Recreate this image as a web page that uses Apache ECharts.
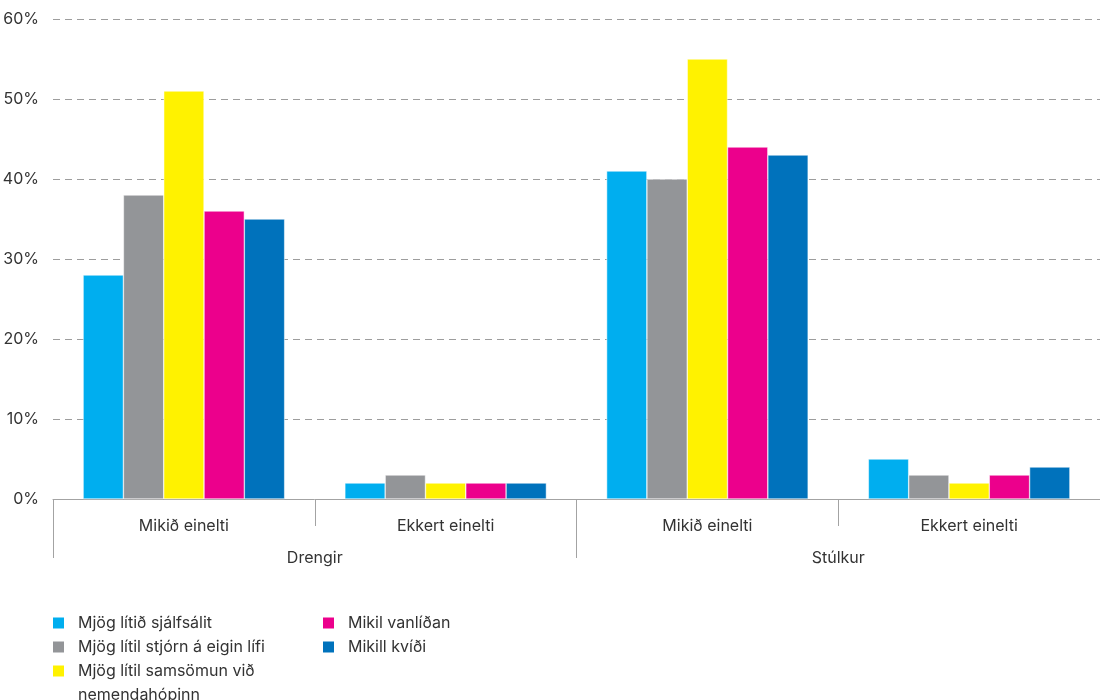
<!DOCTYPE html>
<html>
<head>
<meta charset="utf-8">
<script src="https://cdn.jsdelivr.net/npm/echarts@6/dist/echarts.min.js"></script>
<style>
  html, body { margin: 0; padding: 0; background: #fff; }
  #chart { width: 1100px; height: 700px; }
</style>
</head>
<body>
<div id="chart"></div>
<script>
const categories = ['Mikið einelti', 'Ekkert einelti', 'Mikið einelti', 'Ekkert einelti'];
const groups = ['Drengir', 'Stúlkur'];
const seriesNames = [
  'Mjög lítið sjálfsálit',
  'Mjög lítil stjórn á eigin lífi',
  'Mjög lítil samsömun við nemendahópinn',
  'Mikil vanlíðan',
  'Mikill kvíði'
];
const sjalfsalit = [28, 2, 41, 5];
const stjorn = [38, 3, 40, 3];
const samsomun = [51, 2, 55, 2];
const vanlidan = [36, 2, 44, 3];
const kvidi = [35, 2, 43, 4];
const colors = ['#00AEEF', '#939598', '#FFF200', '#EC008C', '#0072BC'];
const yTicks = [0, 10, 20, 30, 40, 50, 60];

const FONT = "Inter, 'Liberation Sans', Arial, sans-serif";
const TXT = '#333333';
const AX = '#a3a3a3';

const values = [sjalfsalit, stjorn, samsomun, vanlidan, kvidi];

const chart = echarts.init(document.getElementById('chart'), null, { renderer: 'canvas' });

const series = seriesNames.map((name, i) => ({
  name: name,
  type: 'bar',
  xAxisIndex: 0,
  yAxisIndex: 0,
  barGap: '0%',
  barCategoryGap: '23%',
  itemStyle: { color: colors[i], borderColor: '#ffffff', borderWidth: 0.5 },
  emphasis: { disabled: true },
  data: values[i]
}));

const legendText = { fontFamily: FONT, fontSize: 16, color: TXT, lineHeight: 24, padding: [0, 0, 0, 8] };
const legendBase = {
  orient: 'vertical', padding: 0, itemGap: 0,
  itemWidth: 13, itemHeight: 13, icon: 'rect',
  textStyle: legendText
};

chart.setOption({
  animation: false,
  color: colors,
  textStyle: { fontFamily: FONT },
  grid: { left: 53, right: 0, top: 19, bottom: 201, containLabel: false, outerBoundsMode: 'none' },
  legend: [
    Object.assign({}, legendBase, {
      left: 51, top: 611,
      data: [seriesNames[0], seriesNames[1]]
    }),
    Object.assign({}, legendBase, {
      left: 51, top: 635,
      data: [seriesNames[2]],
      formatter: function (name) {
        return name === seriesNames[2] ? '\nMjög lítil samsömun við\nnemendahópinn' : name;
      }
    }),
    Object.assign({}, legendBase, {
      left: 321, top: 611,
      data: [seriesNames[3], seriesNames[4]]
    })
  ],
  xAxis: [
    {
      type: 'category',
      position: 'bottom',
      data: categories,
      axisLine: { show: true, lineStyle: { color: AX, width: 1 } },
      axisTick: { show: true, length: 27, lineStyle: { color: AX, width: 1 } },
      axisLabel: { fontFamily: FONT, fontSize: 16, color: TXT, margin: 19 },
      splitLine: { show: false }
    },
    {
      type: 'category',
      position: 'bottom',
      data: groups,
      axisLine: { show: false },
      axisTick: { show: true, length: 59, lineStyle: { color: AX, width: 1 } },
      axisLabel: { fontFamily: FONT, fontSize: 16, color: TXT, margin: 51 },
      splitLine: { show: false }
    }
  ],
  yAxis: {
    type: 'value',
    min: yTicks[0],
    max: yTicks[yTicks.length - 1],
    interval: 10,
    axisLine: { show: false },
    axisTick: { show: false },
    axisLabel: { fontFamily: FONT, fontSize: 16, color: TXT, margin: 14, formatter: '{value}%' },
    splitLine: { show: true, lineStyle: { color: '#9d9d9d', type: [7, 5], width: 1 } }
  },
  series: series
});
</script>
</body>
</html>
